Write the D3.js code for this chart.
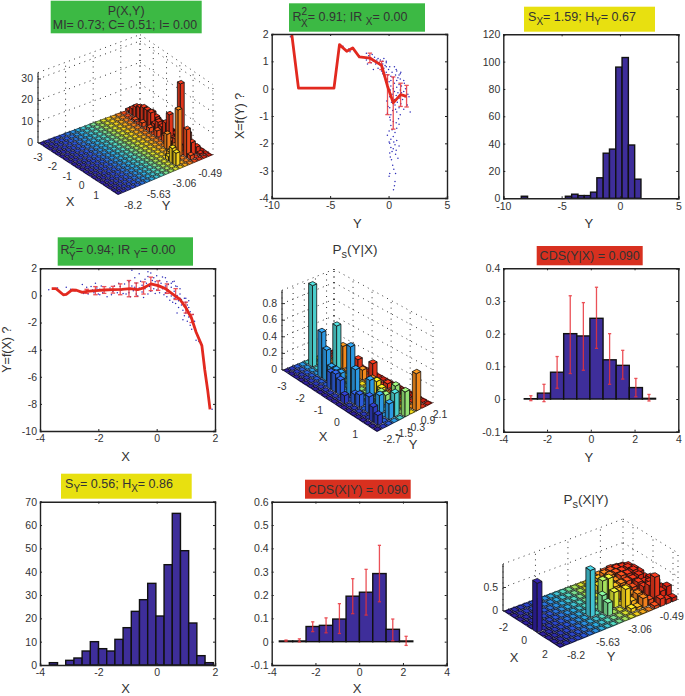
<!DOCTYPE html>
<html>
<head>
<meta charset="utf-8">
<script src="https://cdn.jsdelivr.net/npm/d3@7"></script>
<style>
  html, body { margin: 0; background: #fff; }
  text { font-family: "Liberation Sans", Arial, sans-serif; fill: #333; }
</style>
</head>
<body>
<svg id="fig" width="685" height="696"></svg>
<script>
// samples as [X, Y] (one is the mirror of the other)
const samples = [[-3.55,.5],[-3.4,.55],[-3.2,.05],[-3.1,.1],[-2.95,.45],[-2.8,.35],[-2.6,.25],[-2.5,.15],[-2.4,.6],[-2.35,.1],[-2.3,.3],[-2.25,.65],[-2.2,.4],[-2.15,.2],[-2.05,.55],[-2,.1],[-1.95,.45],[-1.9,.7],[-1.85,.2],[-1.75,.4],[-1.7,-.1],[-1.6,.55],[-1.5,.3],[-1.45,.7],[-1.35,.2],[-1.25,.65],[-1.2,.4],[-1.1,.85],[-1.05,.1],[-.95,1],[-.95,.2],[-.9,-.1],[-.85,.7],[-.85,1.85],[-.8,.35],[-.75,1.3],[-.7,.1],[-.7,.9],[-.65,-.05],[-.6,.55],[-.55,1.05],[-.5,.25],[-.5,.75],[-.45,-.15],[-.4,1.2],[-.4,.5],[-.35,.9],[-.3,.1],[-.3,1.4],[-.25,.65],[-.2,1.65],[-.2,.3],[-.15,1.1],[-.15,.8],[-.1,1.3],[-.1,.5],[-.05,1],[0,.4],[0,1.45],[.05,.7],[.1,1.1],[.1,.2],[.15,.9],[.2,.5],[.2,1.35],[.25,.05],[.3,1.3],[.3,.7],[.35,-.1],[.35,1],[.4,.4],[.4,.8],[.45,-.35],[.45,.2],[.5,.6],[.5,-.05],[.55,1],[.55,-.5],[.6,.3],[.6,-.2],[.65,.7],[.65,-.6],[.7,0],[.7,.65],[.75,-.4],[.75,-.9],[.8,.1],[.8,-.2],[.85,-.7],[.85,-.3],[.9,-1.1],[.9,-.5],[.95,-.2],[.95,-.8],[1,-1.3],[1,-.5],[1.05,-1],[1.05,-.7],[1.1,-1.6],[1.1,-.9],[1.15,-1.2],[1.15,-2.2],[1.2,-1.7],[1.2,-2.5],[1.25,-1.4],[1.3,-1.9],[.9,-1.8],[.7,-1.3],[1.35,-3.3],[1.45,-3.4],[1.55,-3.9],[1.9,-8.4],[-3.7,.42],[-3.1,.6],[-2.55,.8],[-2.1,.9],[-1.55,.05],[-1.15,.15],[-.6,1.6],[-.3,1.75],[.6,1.05],[.8,.5],[1,-.2],[1.1,-.4],[.95,-1.5],[1.05,-1.9],[.3,.2],[.5,.9],[-.05,.15],[-.75,.6],[-1.3,.9],[-1.95,.05]];

// regression curves with their error bars
const xOfY = [[-8.28,1.98],[-7.71,.02],[-4.67,.02],[-4.2,1.61],[-3.58,1.37],[-3.07,1.49],[-2.5,1.16],[-1.6,1.12],[-.6,.85],[-.09,.09],[.4,-.52],[1.03,-.22],[1.54,-.28]];
const xOfYErr = [[-1.6,1.3,.95],[-.6,1,.7],[-.09,.51,-.95],[.4,.43,-1.48],[1.03,.2,-.65],[1.54,.12,-.67]];
const yOfX = [[-3.6,.5],[-3.45,.5],[-3.2,.05],[-3.1,.08],[-2.9,.4],[-2.75,.38],[-2.55,.22],[-2.4,.3],[-2.1,.35],[-1.8,.4],[-1.5,.42],[-1.2,.45],[-.9,.5],[-.65,.42],[-.45,.55],[-.2,.85],[.05,.72],[.3,.5],[.55,.1],[.8,-.3],[1,-.9],[1.2,-1.7],[1.35,-2.7],[1.55,-3.7],[1.65,-5.5],[1.75,-7],[1.83,-8.4]];
const yOfXErr = [[-2.4,.45,.15],[-2.1,.65,.05],[-1.8,.65,.15],[-1.5,.67,.17],[-1.25,.85,.05],[-.95,1.1,-.1],[-.7,.92,-.08],[-.45,1,.1],[-.2,1.35,.35],[.05,1.07,.37],[.35,.85,.15],[.65,.5,-.3],[1,-.5,-1.3],[1.2,-1.4,-2]];

// histograms
const histYStart = -8.46, histYWidth = 0.54;
const histY = [1.5,0,0,0,0,0,0,1.5,3,2,2,4.5,15,33,36,96,103,39,14];
const histXStart = -3.68, histXWidth = 0.281;
const histX = [1,0,2,3,6,10,7,6,11,16,23,28,35,21,43,65,49,18,4,1];

// conditional distributions: bar height, error bar top, error bar bottom
const cdsYStart = -3.04, cdsYWidth = 0.6;
const cdsY = [.001,.018,.082,.2,.193,.247,.12,.103,.035,.002];
const cdsYHi = [.01,.045,.13,.316,.295,.342,.2,.149,.063,.014];
const cdsYLo = [-.005,-.008,.033,.078,.088,.155,.045,.061,.007,-.006];
const cdsXStart = -3.65, cdsXWidth = 0.61;
const cdsX = [.003,.003,.065,.07,.097,.195,.212,.292,.053,.003];
const cdsXHi = [.007,.012,.085,.102,.163,.27,.31,.413,.097,.023];
const cdsXLo = [.002,-.001,.043,.038,.035,.12,.114,.171,.004,-.016];

// 3D bars: [X bin, Y bin, height], every other cell is flat
const jointBars = [[0,17,1],[1,17,3],[2,17,5],[3,17,6],[4,17,7],[5,17,7],[6,17,7],[7,17,3],[8,17,5],[9,17,4],[10,17,7],[11,17,12],[12,17,2],[14,17,30],[16,17,9],[17,17,6],[13,15,7],[16,15,22],[17,16,13],[17,13,7],[18,13,6],[14,16,5],[15,15,4],[15,16,3],[16,18,2],[17,18,3],[18,18,1],[15,18,3],[18,16,2],
  [1,18,2],[2,18,3],[3,18,4],[4,18,4],[5,18,5],[6,18,4],[7,18,3],[8,18,3],[9,18,3],[10,18,2],[11,18,2],[12,18,2],[13,18,2],[14,18,2],
  [3,16,1],[5,16,2],[7,16,2],[9,16,3],[11,16,3],[12,16,2],[13,16,3],[15,14,2],[16,14,3],[16,13,2],[5,19,1],[8,19,1],[11,19,1]];
const condYBars = [[1,4,.98],[4,3,.55],[5,3,.37],[6,4,.67],[4,7,.27],[6,8,.15],[9,8,.2],[10,3,.59],[11,3,.35],[14,3,.33],[16,3,.22],[18,3,.19],[18,4,.28],[17,5,.3],[19,5,.3],[19,7,.45],[7,2,.2],[8,2,.22],[9,2,.18],[6,3,.2],[7,3,.2],[8,3,.2],[11,1,.1],[12,2,.12],[13,2,.15],[15,2,.2],[17,1,.18],[18,1,.12],[12,6,.15],[13,6,.1],[14,5,.12],[15,5,.12],[8,7,.12],[10,7,.08],[12,8,.06],[15,7,.05]];
const condXBars = [[5,0,1.05],[6,8,1],[5,11,.55],[5,12,.55],[6,12,.33],[7,13,.42],[7,10,.28],[6,10,.36],[8,17,.55],
  [0,15,.1],[0,16,.12],[0,17,.14],[0,18,.12],[0,19,.1],
  [1,13,.1],[1,14,.14],[1,15,.2],[1,16,.22],[1,17,.22],[1,18,.2],[1,19,.18],
  [2,13,.12],[2,14,.2],[2,15,.24],[2,16,.25],[2,17,.24],[2,18,.26],[2,19,.2],
  [3,13,.15],[3,14,.22],[3,15,.2],[3,16,.26],[3,17,.25],[3,18,.28],[3,19,.2],
  [4,13,.18],[4,14,.2],[4,15,.22],[4,16,.22],[4,17,.22],[4,18,.25],[4,19,.16],
  [5,14,.18],[5,15,.2],[5,16,.16],[5,17,.22],[5,18,.18],[5,19,.22],
  [6,14,.2],[6,15,.14],[6,16,.12],[6,17,.2],[6,18,.25],[6,19,.14],
  [7,14,.12],[7,15,.22],[7,16,.1],[7,17,.3],[7,18,.35],[7,19,.16],
  [8,13,.08],[8,14,.06],[8,15,.2],[8,16,.12],[8,18,.2],[8,19,.25],[9,16,.06],[9,17,.16],[9,18,.1],[9,19,.08]];

const redLine = "#e2291f";
const indigo = "#3e2e9a";
const jet = d3.scaleLinear()
  .domain([0, .2, .36, .48, .58, .66, .76, .86, 1])
  .range(["#2f1f9c", "#2c50d8", "#2ca8e4", "#56dcc0", "#a6e05a", "#f2e01c", "#f49a1c", "#e63a1c", "#cc2012"]);

const svg = d3.select("#fig");
let clipCount = 0;

// title text: parts are [string, baseline shift, dx], a stacked sub/superscript is two parts
function rich(parent, x, y, size, parts) {
  const t = parent.append("text").attr("x", x).attr("y", y)
    .attr("text-anchor", "middle").style("font-size", size + "px");
  let prev = 0;
  parts.forEach(p => {
    const s = t.append("tspan").text(p[0]).attr("dy", p[1] - prev);
    if (p[1] !== 0) s.style("font-size", (size - 2.5) + "px");
    if (p[2]) s.attr("dx", p[2]);
    prev = p[1];
  });
}

function titleBox(x0, y0, x1, y1, color, baseline, parts, textX) {
  svg.append("rect").attr("x", x0).attr("y", y0).attr("width", x1 - x0).attr("height", y1 - y0)
    .attr("fill", color);
  rich(svg, textX || (x0 + x1) / 2, baseline, 12.5, parts);
}

// 2D frame with inward ticks on all four sides
function frame(box, xDomain, yDomain, xTicks, yTicks, xLabel, yLabel) {
  const x = d3.scaleLinear().domain(xDomain).range([box.x0, box.x1]);
  const y = d3.scaleLinear().domain(yDomain).range([box.y1, box.y0]);
  const g = svg.append("g");
  const clip = "clip" + (++clipCount);
  g.append("clipPath").attr("id", clip).append("rect")
    .attr("x", box.x0).attr("y", box.y0).attr("width", box.x1 - box.x0).attr("height", box.y1 - box.y0);
  const plot = g.append("g").attr("clip-path", `url(#${clip})`);
  const over = svg.append("g");
  const side = (axis, tx, ty, labels) => {
    const a = over.append("g").attr("transform", `translate(${tx},${ty})`).call(axis);
    a.selectAll("path").attr("stroke", "#222").attr("stroke-width", 1.4);
    a.selectAll("line").attr("stroke", "#222");
    a.selectAll("text").style("font-size", "10.5px").attr("fill", "#333");
    if (!labels) a.selectAll("text").remove();
    return a;
  };
  const fmt = d => d;
  side(d3.axisBottom(x).tickValues(xTicks).tickSize(-2).tickPadding(4).tickFormat(fmt), 0, box.y1, true);
  side(d3.axisTop(x).tickValues(xTicks).tickSize(-2), 0, box.y0, false);
  side(d3.axisLeft(y).tickValues(yTicks).tickSize(-2).tickPadding(3).tickFormat(fmt), box.x0, 0, true);
  side(d3.axisRight(y).tickValues(yTicks).tickSize(-2), box.x1, 0, false);
  over.append("text").attr("x", (box.x0 + box.x1) / 2 - 2).attr("y", box.y1 + (box.labelGap || 30))
    .attr("text-anchor", "middle").style("font-size", "13px").text(xLabel);
  if (yLabel) {
    over.append("text").attr("text-anchor", "middle").style("font-size", "12.5px")
      .attr("transform", `translate(${box.x0 - (box.yGap || 28)},${(box.y0 + box.y1) / 2}) rotate(-90)`).text(yLabel);
  }
  return { x, y, plot };
}

function histogram(f, start, width, counts) {
  f.plot.selectAll(null).data(counts).join("rect")
    .attr("x", (d, i) => f.x(start + i * width))
    .attr("width", (d, i) => f.x(start + (i + 1) * width) - f.x(start + i * width))
    .attr("y", d => f.y(d))
    .attr("height", d => f.y(0) - f.y(d))
    .attr("fill", indigo).attr("stroke", "#111").attr("stroke-width", 1.4);
}

function errorBars(f, rows, cap) {
  const g = f.plot.append("g").attr("stroke", "#e8333a").attr("stroke-width", 1.3).attr("opacity", .85);
  rows.forEach(r => {
    g.append("line").attr("x1", f.x(r[0])).attr("x2", f.x(r[0])).attr("y1", f.y(r[1])).attr("y2", f.y(r[2]));
    [r[1], r[2]].forEach(v => g.append("line")
      .attr("x1", f.x(r[0]) - cap).attr("x2", f.x(r[0]) + cap).attr("y1", f.y(v)).attr("y2", f.y(v)));
  });
}

function scatterFit(f, pts, curve, errs) {
  f.plot.selectAll(null).data(pts).join("circle")
    .attr("cx", d => f.x(d[0])).attr("cy", d => f.y(d[1])).attr("r", .75).attr("fill", "#2e2eb8");
  errorBars(f, errs, 2.2);
  f.plot.append("path").datum(curve)
    .attr("d", d3.line().x(d => f.x(d[0])).y(d => f.y(d[1])))
    .attr("fill", "none").attr("stroke", redLine).attr("stroke-width", 2.8).attr("stroke-linejoin", "round");
}

// bar3 look: bilinear floor between four screen corners, painted back to front
function bars3d(o) {
  const g = svg.append("g");
  const p = (u, v, z) => {
    const a = u / o.nx, b = v / o.ny;
    const fx = c => (1 - a) * ((1 - b) * o.left[c] + b * o.back[c]) + a * ((1 - b) * o.bottom[c] + b * o.right[c]);
    return [fx(0), fx(1) - (z ? o.z(z) - o.z(0) : 0)];
  };
  const poly = pts => "M" + pts.map(q => q.join(",")).join("L") + "Z";
  const u = d3.scaleLinear().domain(o.xDomain).range([0, o.nx]);
  const v = d3.scaleLinear().domain(o.yDomain).range([0, o.ny]);
  const dotted = (a, b) => g.append("line").attr("x1", a[0]).attr("y1", a[1]).attr("x2", b[0]).attr("y2", b[1])
    .attr("stroke", "#333").attr("stroke-width", 1).attr("stroke-dasharray", "1 4.5");

  // back walls
  o.zTicks.concat([o.zTop]).forEach(z => {
    dotted(p(0, 0, z), p(0, o.ny, z));
    dotted(p(0, o.ny, z), p(o.nx, o.ny, z));
  });
  o.yTicks.forEach(t => dotted(p(0, v(t), 0), p(0, v(t), o.zTop)));
  o.xTicks.forEach(t => dotted(p(u(t), o.ny, 0), p(u(t), o.ny, o.zTop)));
  dotted(p(0, o.ny, 0), p(0, o.ny, o.zTop));
  dotted(p(o.nx, o.ny, 0), p(o.nx, o.ny, o.zTop));

  const heights = new Map(o.bars.map(b => [b[0] + "," + b[1], b[2]]));
  const gap = 0.1;
  for (let i = 0; i < o.nx; i++) {
    for (let j = o.ny - 1; j >= 0; j--) {
      const base = d3.color(jet(j / (o.ny - 1)));
      const h = heights.get(i + "," + j) || 0;
      if (!h) {
        g.append("path").attr("d", poly([p(i, j), p(i + 1, j), p(i + 1, j + 1), p(i, j + 1)]))
          .attr("fill", base.darker(3)).attr("stroke", "none");
        g.append("path").attr("d", poly([p(i + .2, j + .2), p(i + .8, j + .2), p(i + .8, j + .8), p(i + .2, j + .8)]))
          .attr("fill", base).attr("stroke", "none");
        continue;
      }
      const a0 = i + gap, a1 = i + 1 - gap, b0 = j + gap, b1 = j + 1 - gap;
      const face = (pts, c) => g.append("path").attr("d", poly(pts))
        .attr("fill", c).attr("stroke", "#111").attr("stroke-width", .8).attr("stroke-linejoin", "round");
      face([p(a0, b0), p(a1, b0), p(a1, b0, h), p(a0, b0, h)], base.darker(.5));
      face([p(a1, b0), p(a1, b1), p(a1, b1, h), p(a1, b0, h)], base);
      face([p(a0, b0, h), p(a1, b0, h), p(a1, b1, h), p(a0, b1, h)], base.brighter(.35));
    }
  }

  // z axis and labels
  const zx = o.left[0];
  g.append("line").attr("x1", zx).attr("x2", zx).attr("y1", p(0, 0, 0)[1]).attr("y2", p(0, 0, o.zTop)[1])
    .attr("stroke", "#333").attr("stroke-width", 1.2);
  o.zTicks.forEach(z => {
    const y = p(0, 0, z)[1];
    g.append("line").attr("x1", zx).attr("x2", zx + 3).attr("y1", y).attr("y2", y).attr("stroke", "#333");
    g.append("text").attr("x", zx - 5).attr("y", y + 3).attr("text-anchor", "end")
      .style("font-size", "10.5px").text(z);
  });
  const label = (q, s, size) => g.append("text").attr("x", q[0]).attr("y", q[1]).attr("text-anchor", "middle")
    .style("font-size", (size || 10.5) + "px").text(s);
  o.xTicks.forEach(t => {
    const q = p(u(t), 0, 0);
    label([q[0] + o.xOffset[0], q[1] + o.xOffset[1]], t);
  });
  o.yTicks.forEach(t => {
    const q = p(o.nx, v(t), 0);
    label([q[0] + o.yOffset[0], q[1] + o.yOffset[1]], t);
  });
  label(o.xLabelAt, "X", 13);
  label(o.yLabelAt, "Y", 13);
}

// top row
titleBox(50.7, .7, 201.7, 33.3, "#3cb944", 15, [["P(X,Y)", 0]]);
svg.append("text").attr("x", 125).attr("y", 29).attr("text-anchor", "middle").style("font-size", "12.4px")
  .text("MI= 0.73; C= 0.51; I= 0.00");
bars3d({
  nx: 20, ny: 20, left: [38, 143], bottom: [118, 195], right: [213, 155], back: [140, 105],
  z: d3.scaleLinear().domain([0, 30]).range([0, 64]), zTicks: [0, 10, 20, 30], zTop: 33,
  xDomain: [-3, 2.5], yDomain: [-8.2, 1.3], xTicks: [-3, -2, -1, 0, 1], yTicks: [-8.2, -5.63, -3.06, -.49],
  xOffset: [0, 18], yOffset: [15, 14], xLabelAt: [70, 206], yLabelAt: [166, 210], bars: jointBars
});

titleBox(289, 3.3, 425, 31.7, "#3cb944", 21, [["R", 0], ["2", -6], ["X", 6, -6], ["= 0.91; IR ", 0], ["X", 4], ["= 0.00", 0]], 350);
const f2 = frame({ x0: 271.7, x1: 447, y0: 34, y1: 198 }, [-10, 5], [-4, 2], [-10, -5, 0, 5], [-4, -3, -2, -1, 0, 1, 2], "Y", "X=f(Y) ?");
scatterFit(f2, samples.map(d => [d[1], d[0]]), xOfY, xOfYErr);

titleBox(524, 6.7, 655, 31.7, "#e8e010", 20.5, [["S", 0], ["X", 4], ["= 1.59; H", 0], ["Y", 4], ["= 0.67", 0]], 582);
const f3 = frame({ x0: 503.3, x1: 678.3, y0: 34.3, y1: 198.3 }, [-10, 5], [0, 120], [-10, -5, 0, 5], d3.range(0, 121, 20), "Y");
histogram(f3, histYStart, histYWidth, histY);

// middle row
titleBox(57.7, 237.3, 193, 265.7, "#3cb944", 254, [["R", 0], ["2", -6], ["Y", 6, -6], ["= 0.94; IR ", 0], ["Y", 4], ["= 0.00", 0]], 118);
const f4 = frame({ x0: 40, x1: 215, y0: 268.3, y1: 431, yGap: 29 }, [-4, 2], [-10, 2], [-4, -2, 0, 2], d3.range(-10, 3, 2), "X", "Y=f(X) ?");
scatterFit(f4, samples, yOfX, yOfXErr);

rich(svg, 355, 254, 13.5, [["P", 0], ["s", 4], ["(Y|X)", 0]]);
bars3d({
  nx: 20, ny: 10, left: [282, 370], bottom: [377, 432], right: [433, 403], back: [334, 349],
  z: d3.scaleLinear().domain([0, 1]).range([0, 83]), zTicks: [0, .2, .4, .6, .8], zTop: .96,
  xDomain: [-3, 2.2], yDomain: [-2.7, 2.9], xTicks: [-3, -2, -1, 0, 1], yTicks: [-2.7, -1.5, -.3, .9, 2.1],
  xOffset: [0, 20], yOffset: [15, 11], xLabelAt: [323, 441], yLabelAt: [413, 449], bars: condYBars
});

titleBox(536.7, 246, 642.7, 265.3, "#d8301f", 260, [["CDS(Y|X) = 0.090", 0]]);
const f6 = frame({ x0: 503.3, x1: 678.3, y0: 268.3, y1: 431.7 }, [-4, 4], [-.1, .4], [-4, -2, 0, 2, 4], [-.1, 0, .1, .2, .3, .4], "Y");
histogram(f6, cdsYStart, cdsYWidth, cdsY);
errorBars(f6, cdsY.map((d, i) => [cdsYStart + (i + .5) * cdsYWidth, cdsYHi[i], cdsYLo[i]]), 1.6);

// bottom row
titleBox(61, 473.7, 191.7, 498.7, "#e8e010", 487.5, [["S", 0], ["Y", 4], ["= 0.56; H", 0], ["X", 4], ["= 0.86", 0]], 119);
const f7 = frame({ x0: 40, x1: 215, y0: 501.7, y1: 665, labelGap: 28 }, [-4, 2], [0, 70], [-4, -2, 0, 2], d3.range(0, 71, 10), "X");
histogram(f7, histXStart, histXWidth, histX);

titleBox(305, 479.7, 410.7, 498.7, "#d8301f", 494, [["CDS(X|Y) = 0.090", 0]]);
const f8 = frame({ x0: 271.7, x1: 446.7, y0: 501.7, y1: 665, labelGap: 28 }, [-4, 4], [-.1, .6], [-4, -2, 0, 2, 4], [-.1, 0, .1, .2, .3, .4, .5, .6], "X");
histogram(f8, cdsXStart, cdsXWidth, cdsX);
errorBars(f8, cdsX.map((d, i) => [cdsXStart + (i + .5) * cdsXWidth, cdsXHi[i], cdsXLo[i]]), 1.6);

rich(svg, 586, 504, 13.5, [["P", 0], ["s", 4], ["(X|Y)", 0]]);
bars3d({
  nx: 10, ny: 20, left: [503, 611], bottom: [560, 648], right: [678, 600], back: [623, 566],
  z: d3.scaleLinear().domain([0, 1]).range([0, 47]), zTicks: [0, .5], zTop: 1,
  xDomain: [-3, 2.5], yDomain: [-8.2, 1.3], xTicks: [-2, 0, 2], yTicks: [-8.2, -5.63, -3.06, -.49],
  xOffset: [-10, 13], yOffset: [16, 11], xLabelAt: [514, 662], yLabelAt: [611, 661], bars: condXBars
});
</script>
</body>
</html>
